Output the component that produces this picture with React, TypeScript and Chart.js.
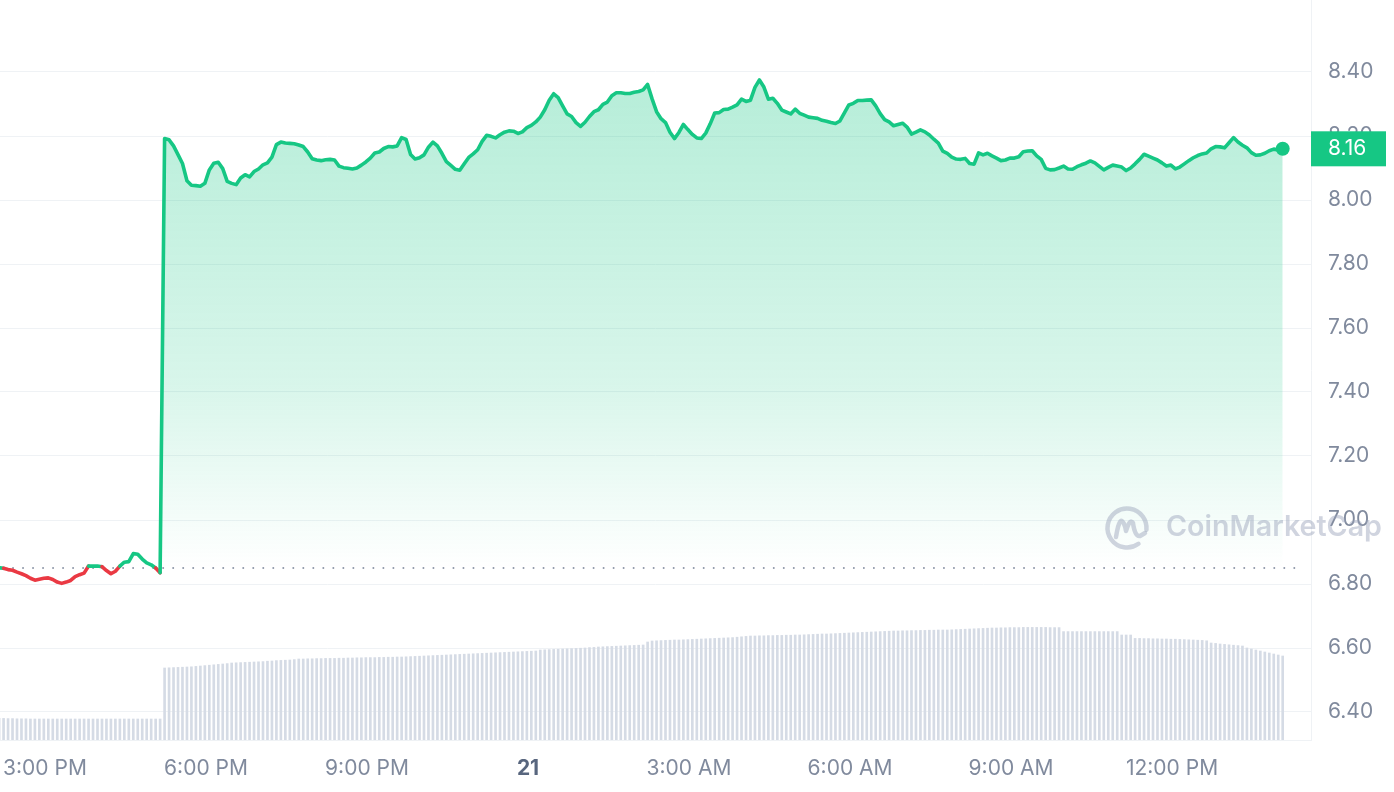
import React, { useEffect, useRef } from 'react';
import { Chart, registerables } from 'chart.js';

Chart.register(...registerables);

// ---------- data ----------
// time in hours counted from 00:00 of the 20th (24 = midnight "21")
const START_HOUR = 14.145;
const STEP_MINUTES = 5;
const VIEW_MIN_HOUR = 14.1616;
const VIEW_MAX_HOUR = 38.589;
const BASELINE_PRICE = 6.85;

const xTickHours = [15, 18, 21, 24, 27, 30, 33, 36];
const xTickLabels = ['3:00 PM', '6:00 PM', '9:00 PM', '21', '3:00 AM', '6:00 AM', '9:00 AM', '12:00 PM'];
const yTickValues = [6.4, 6.6, 6.8, 7.0, 7.2, 7.4, 7.6, 7.8, 8.0, 8.2, 8.4];

const pricesAfternoon = [
  6.851, 6.849, 6.845, 6.843, 6.837, 6.832, 6.826, 6.818, 6.812, 6.815,
  6.818, 6.819, 6.814, 6.806, 6.802, 6.806, 6.811, 6.823, 6.829, 6.834,
  6.856, 6.856, 6.856, 6.854, 6.842, 6.832, 6.840, 6.856, 6.868, 6.870,
  6.895, 6.893, 6.878, 6.866, 6.860, 6.850, 6.835,
];
const pricesEvening = [
  8.192, 8.188, 8.169, 8.142, 8.114, 8.060, 8.046, 8.045, 8.043, 8.052,
  8.094, 8.115, 8.118, 8.098, 8.058, 8.052, 8.048, 8.069, 8.079, 8.072,
  8.089, 8.097, 8.110, 8.116, 8.134, 8.173, 8.181, 8.178, 8.177, 8.176,
  8.172, 8.167, 8.150, 8.129, 8.125, 8.123, 8.126, 8.127, 8.125, 8.106,
  8.101, 8.099, 8.097, 8.100, 8.109, 8.119, 8.131, 8.147, 8.150, 8.161,
  8.167, 8.166, 8.169, 8.195, 8.189, 8.142, 8.128, 8.132, 8.141, 8.165,
  8.181, 8.169, 8.146, 8.120, 8.108, 8.096, 8.093, 8.113, 8.133, 8.144,
  8.157, 8.183, 8.202,
];
const pricesNight = [
  8.199, 8.194, 8.204, 8.212, 8.216, 8.215, 8.208, 8.213, 8.226, 8.233,
  8.244, 8.259, 8.282, 8.312, 8.332, 8.320, 8.294, 8.269, 8.261, 8.242,
  8.230, 8.243, 8.261, 8.276, 8.282, 8.299, 8.306, 8.326, 8.335, 8.335,
  8.333, 8.333, 8.337, 8.339, 8.344, 8.361, 8.316, 8.276, 8.254, 8.242,
  8.212, 8.192, 8.211, 8.236, 8.220, 8.205, 8.194, 8.192, 8.209, 8.238,
  8.272, 8.273, 8.283, 8.284, 8.290, 8.297, 8.315, 8.308, 8.312, 8.352,
  8.375, 8.353, 8.315, 8.318, 8.302, 8.281, 8.275, 8.269, 8.284, 8.271,
  8.265, 8.259, 8.257, 8.255, 8.249, 8.246, 8.242, 8.239, 8.247, 8.272,
  8.297,
];
const pricesMorning = [
  8.302, 8.311, 8.311, 8.312, 8.313, 8.294, 8.270, 8.251, 8.244,
  8.232, 8.236, 8.240, 8.228, 8.206, 8.212, 8.219, 8.213, 8.203, 8.190,
  8.178, 8.153, 8.146, 8.134, 8.128, 8.127, 8.130, 8.114, 8.112, 8.147,
  8.141, 8.146, 8.138, 8.131, 8.123, 8.125, 8.131, 8.131, 8.135, 8.151,
  8.153, 8.154, 8.138, 8.127, 8.099, 8.094, 8.095, 8.100, 8.106, 8.097,
  8.096, 8.104, 8.110, 8.115, 8.122, 8.116, 8.105, 8.094, 8.102, 8.109,
  8.106, 8.103, 8.092, 8.100, 8.113, 8.127, 8.143, 8.137, 8.131, 8.125,
  8.116, 8.106, 8.109, 8.097, 8.103, 8.113, 8.123, 8.132, 8.139, 8.144,
  8.147, 8.160, 8.167, 8.166, 8.163, 8.179, 8.195, 8.181, 8.171, 8.163,
  8.148, 8.140, 8.141, 8.146, 8.154, 8.159, 8.156, 8.160,
];

// 24h volume, millions
const volumeAfternoon = [
  1.08, 1.08, 1.07, 1.07, 1.06, 1.06, 1.06, 1.05, 1.05, 1.05,
  1.05, 1.05, 1.05, 1.05, 1.05, 1.05, 1.05, 1.05, 1.05, 1.05,
  1.05, 1.05, 1.05, 1.05, 1.05, 1.05, 1.05, 1.05, 1.05, 1.05,
  1.05, 1.05, 1.05, 1.05, 1.05, 1.05, 1.05,
];
const volumeEvening = [
  3.60, 3.61, 3.62, 3.63, 3.64, 3.65, 3.66, 3.68,
  3.70, 3.72, 3.74, 3.76, 3.78, 3.80, 3.82, 3.85,
  3.86, 3.87, 3.88, 3.89, 3.90, 3.91, 3.92, 3.94, 3.95,
  3.97, 3.98, 3.99, 4.00, 4.02, 4.05,
  4.05, 4.06, 4.06, 4.07, 4.07, 4.08, 4.08, 4.08, 4.09, 4.09, 4.10, 4.10,
  4.11, 4.11, 4.12, 4.12, 4.12, 4.13, 4.13, 4.14, 4.14, 4.15, 4.15,
];
const volumeNight = [
  4.16, 4.17, 4.18, 4.19, 4.20, 4.21, 4.22, 4.23, 4.24, 4.25,
  4.26, 4.27, 4.28, 4.29, 4.30, 4.31, 4.32, 4.33, 4.34, 4.35,
  4.36, 4.37, 4.38, 4.39, 4.40, 4.41, 4.42, 4.43, 4.44, 4.45,
  4.50, 4.51, 4.52, 4.53, 4.54, 4.55, 4.56, 4.57, 4.58, 4.59, 4.60, 4.62, 4.63, 4.65,
  4.66, 4.67, 4.68, 4.69, 4.70, 4.71, 4.72, 4.73, 4.74, 4.75, 4.90, 4.95,
  4.96, 4.97, 4.98, 4.99, 5.00, 5.00, 5.01, 5.02, 5.03, 5.04, 5.05,
  5.06, 5.07, 5.08, 5.09, 5.10, 5.11, 5.12, 5.14, 5.16, 5.18, 5.20,
];
const volumeMorning = [
  5.20, 5.21, 5.21, 5.22, 5.22, 5.23, 5.23, 5.24, 5.24, 5.25, 5.25,
  5.26, 5.27, 5.28, 5.29, 5.30, 5.30, 5.31, 5.32, 5.33, 5.34, 5.35,
  5.36, 5.37, 5.38, 5.39, 5.40, 5.41, 5.42, 5.43, 5.44, 5.45, 5.45,
  5.46, 5.46, 5.47, 5.47, 5.48, 5.48, 5.49, 5.49, 5.50, 5.50, 5.50, 5.51,
  5.52, 5.53, 5.54, 5.55, 5.56, 5.57, 5.58, 5.59, 5.60, 5.60, 5.61,
  5.61, 5.62, 5.62, 5.62, 5.63, 5.63, 5.63, 5.63, 5.63, 5.63, 5.62, 5.62, 5.62,
  5.42, 5.42, 5.42, 5.42, 5.42, 5.42, 5.42, 5.42, 5.42, 5.42, 5.42, 5.42, 5.42,
  5.25, 5.25, 5.25,
  5.08, 5.08, 5.07, 5.07, 5.06, 5.06, 5.05, 5.05, 5.04, 5.04, 5.03, 5.02, 5.01, 5.00, 4.99, 4.98, 4.96,
  4.85, 4.83, 4.80, 4.78, 4.76, 4.74, 4.72, 4.70, 4.60, 4.55, 4.50, 4.45, 4.40, 4.35, 4.30, 4.25, 4.20,
];

const prices = [...pricesAfternoon, ...pricesEvening, ...pricesNight, ...pricesMorning];
const volumes = [...volumeAfternoon, ...volumeEvening, ...volumeNight, ...volumeMorning];
const hours = prices.map((_, i) => START_HOUR + (i * STEP_MINUTES) / 60);

// ---------- styles ----------
const GREEN = '#16c784';
const RED = '#ea3943';
const TICK_COLOR = '#808a9d';
const GRID_COLOR = '#eff2f5';
const FONT = 'Inter';

const zeroPadding = (scale: any) => {
  scale.paddingLeft = 0;
  scale.paddingRight = 0;
  scale.paddingTop = 0;
  scale.paddingBottom = 0;
};

const overlayPlugin = {
  id: 'cmcOverlay',
  beforeDatasetsDraw(chart: any) {
    const { ctx, chartArea, scales } = chart;
    const y = Math.round(scales.y.getPixelForValue(BASELINE_PRICE));
    ctx.save();
    ctx.strokeStyle = '#8e97a8';
    ctx.lineWidth = 2;
    ctx.lineCap = 'round';
    ctx.setLineDash([0.01, 10]);
    ctx.beginPath();
    ctx.moveTo(chartArea.left + 3, y);
    ctx.lineTo(chartArea.right - 8, y);
    ctx.stroke();
    ctx.restore();
  },
  afterDraw(chart: any) {
    const { ctx, chartArea, scales } = chart;
    // watermark
    const wmColor = 'rgba(150,160,185,0.45)';
    const cx = 1127;
    const cy = 528;
    ctx.save();
    ctx.strokeStyle = wmColor;
    ctx.lineWidth = 4.5;
    ctx.lineCap = 'round';
    ctx.lineJoin = 'round';
    ctx.beginPath();
    ctx.arc(cx, cy, 19.5, Math.PI * 0.3, Math.PI * 2.03);
    ctx.stroke();
    ctx.beginPath();
    ctx.moveTo(cx - 11, cy + 9);
    ctx.quadraticCurveTo(cx - 8, cy - 9, cx - 5, cy - 7);
    ctx.quadraticCurveTo(cx - 2, cy - 4, cx - 1, cy + 3);
    ctx.quadraticCurveTo(cx + 3, cy - 10, cx + 6, cy - 5);
    ctx.quadraticCurveTo(cx + 8, cy + 9, cx + 13, cy + 8);
    ctx.lineTo(cx + 18, cy + 5);
    ctx.stroke();
    const text = 'CoinMarketCap';
    let size = 30;
    ctx.font = `600 ${size}px ${FONT}`;
    const w = ctx.measureText(text).width;
    size = (size * 216) / w;
    ctx.font = `600 ${size}px ${FONT}`;
    ctx.fillStyle = wmColor;
    ctx.textAlign = 'left';
    ctx.textBaseline = 'alphabetic';
    ctx.fillText(text, 1166, 536);
    ctx.restore();

    // last price tag
    const last = prices[prices.length - 1];
    const py = scales.y.getPixelForValue(last);
    ctx.save();
    ctx.fillStyle = GREEN;
    ctx.fillRect(chartArea.right, py - 17.5, 75, 35);
    ctx.fillStyle = '#ffffff';
    ctx.font = `21px ${FONT}`;
    ctx.textAlign = 'left';
    ctx.textBaseline = 'middle';
    ctx.fillText(last.toFixed(2), chartArea.right + 17, py);
    ctx.restore();
  },
};

export default function App() {
  const canvasRef = useRef<HTMLCanvasElement | null>(null);

  useEffect(() => {
    const canvas = canvasRef.current;
    if (!canvas) return;
    const lastIndex = prices.length - 1;

    const chart = new Chart(canvas, {
      type: 'line',
      data: {
        datasets: [
          {
            type: 'line',
            label: 'Price',
            data: prices.map((p, i) => ({ x: hours[i], y: p })),
            yAxisID: 'y',
            order: 0,
            borderColor: GREEN,
            borderWidth: 3.6,
            borderJoinStyle: 'round',
            borderCapStyle: 'round',
            tension: 0,
            segment: {
              borderColor: (ctx: any) =>
                (ctx.p0.parsed.y + ctx.p1.parsed.y) / 2 < BASELINE_PRICE ? RED : GREEN,
            },
            fill: { target: { value: BASELINE_PRICE } },
            backgroundColor: (ctx: any) => {
              const chart = ctx.chart;
              const area = chart.chartArea;
              if (!area) return 'rgba(22,199,132,0.2)';
              const yScale = chart.scales.y;
              const top = yScale.getPixelForValue(8.3);
              const bottom = yScale.getPixelForValue(BASELINE_PRICE);
              const g = chart.ctx.createLinearGradient(0, top, 0, bottom);
              g.addColorStop(0, 'rgba(22,199,132,0.30)');
              g.addColorStop(0.6, 'rgba(22,199,132,0.17)');
              g.addColorStop(1, 'rgba(22,199,132,0.0)');
              return g;
            },
            pointRadius: (ctx: any) => (ctx.dataIndex === lastIndex ? 7 : 0),
            pointHoverRadius: 0,
            pointBackgroundColor: GREEN,
            pointBorderWidth: 0,
          } as any,
          {
            type: 'bar',
            label: 'Volume',
            data: volumes.map((v, i) => ({ x: hours[i], y: v })),
            yAxisID: 'yv',
            order: 1,
            backgroundColor: '#d5dbe5',
            barThickness: 2,
            borderWidth: 0,
          } as any,
        ],
      },
      options: {
        animation: false,
        responsive: false,
        devicePixelRatio: 1,
        layout: { padding: 0, autoPadding: false },
        plugins: {
          legend: { display: false },
          tooltip: { enabled: false },
        },
        events: [],
        scales: {
          x: {
            type: 'linear',
            min: VIEW_MIN_HOUR,
            max: VIEW_MAX_HOUR,
            offset: false,
            grid: { display: false, drawTicks: false },
            border: { display: true, color: GRID_COLOR },
            afterBuildTicks: (scale: any) => {
              scale.ticks = xTickHours.map((v) => ({ value: v }));
            },
            afterFit: (scale: any) => {
              scale.height = 52;
              zeroPadding(scale);
            },
            ticks: {
              autoSkip: false,
              maxRotation: 0,
              padding: 16,
              callback: (value: any) => {
                const idx = xTickHours.indexOf(Number(value));
                return idx >= 0 ? xTickLabels[idx] : '';
              },
              color: (ctx: any) => (ctx.tick && ctx.tick.value === 24 ? '#58667e' : TICK_COLOR),
              font: (ctx: any) =>
                ctx.tick && ctx.tick.value === 24
                  ? { family: FONT, size: 21, weight: '700' }
                  : { family: FONT, size: 21, weight: '400' },
            },
          },
          y: {
            type: 'linear',
            position: 'right',
            min: 6.3125,
            max: 8.625,
            grid: { color: GRID_COLOR, lineWidth: 1, drawTicks: false },
            border: { display: true, color: GRID_COLOR },
            afterBuildTicks: (scale: any) => {
              scale.ticks = yTickValues.map((v) => ({ value: v }));
            },
            afterFit: (scale: any) => {
              scale.width = 83;
              zeroPadding(scale);
            },
            ticks: {
              padding: 17,
              color: TICK_COLOR,
              font: { family: FONT, size: 21 },
              callback: (value: any) => Number(value).toFixed(2),
            },
          },
          yv: {
            type: 'linear',
            display: false,
            min: 0,
            max: 37,
          },
        },
      } as any,
      plugins: [overlayPlugin],
    });

    return () => {
      chart.destroy();
    };
  }, []);

  return (
    <div style={{ position: 'absolute', left: 0, top: 0, width: 1394, height: 792, background: '#ffffff' }}>
      <canvas ref={canvasRef} width={1394} height={792} style={{ display: 'block' }} />
    </div>
  );
}
